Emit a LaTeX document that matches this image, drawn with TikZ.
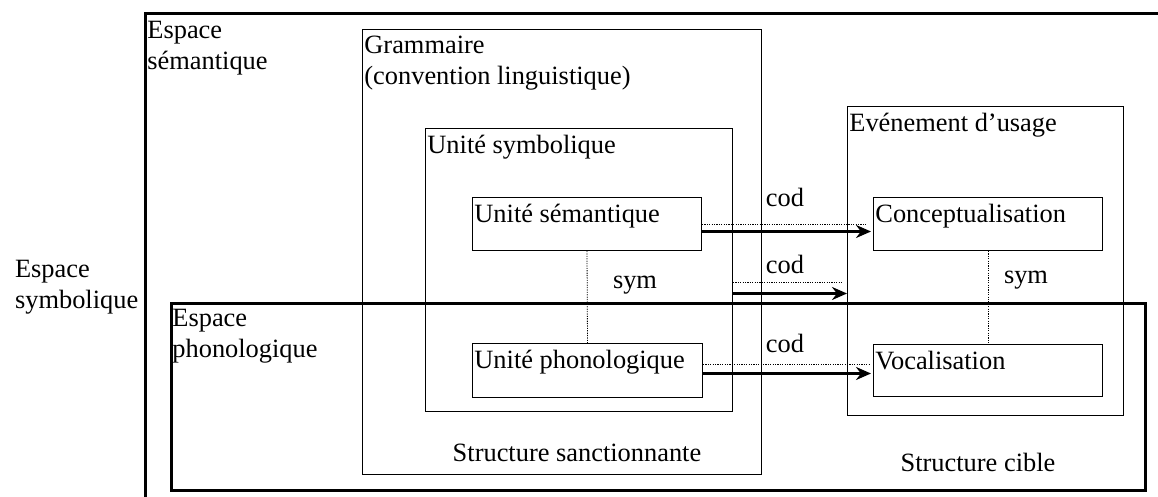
\documentclass[tikz,border=0pt]{standalone}
\usepackage{fontspec}
\setmainfont{Liberation Serif}
\usetikzlibrary{arrows.meta}
\tikzstyle{box}=[draw,rectangle,line width=0.5pt,inner sep=0pt,anchor=north west]
\tikzstyle{space}=[box,line width=1.5pt]
\tikzstyle{lbl}=[anchor=north west,align=left,inner xsep=1pt,inner ysep=3.5pt]
\tikzstyle{link}=[line width=0.4pt,dash pattern=on 0.6pt off 0.6pt]
\tikzstyle{cod}=[-{Stealth[length=7.5pt,width=6.5pt]},line width=1.4pt]

\begin{document}
\begin{tikzpicture}[x=0.5pt,y=-0.5pt,font=\fontsize{13.2}{15.5}\selectfont]
  \useasboundingbox (0,0) rectangle (1158,497);

  % semantic and phonological spaces
  \draw[line width=1.5pt] (1158,14) -- (145,14) -- (145,497);
  \node[lbl] (semlbl) at (145,14) {Espace\\sémantique};
  \node[space,minimum width=487pt,minimum height=93.5pt] (phon) at (170,302) {};
  \node[lbl] (phonlbl) at (phon.north west) {Espace\\phonologique};
  \node[align=left,anchor=west] (symblbl) at (8,287) {Espace\\symbolique};

  % sanctioning structure
  \node[box,minimum width=199.5pt,minimum height=222.5pt] (gram) at (362,29) {};
  \node[lbl] (gramlbl) at (gram.north west) {Grammaire\\(convention linguistique)};
  \node[box,minimum width=153.5pt,minimum height=141.5pt] (symb) at (425,128) {};
  \node[lbl] (symblbl2) at (symb.north west) {Unité symbolique};
  \node[box,minimum width=114.5pt,minimum height=26.5pt] (usem) at (472,197) {};
  \node[lbl] (usemlbl) at (usem.north west) {Unité sémantique};
  \node[box,minimum width=115pt,minimum height=27pt] (uphon) at (472,343) {};
  \node[lbl] (uphonlbl) at (uphon.north west) {Unité phonologique};
  \node (sanct) at (577,453) {Structure sanctionnante};

  % target structure
  \node[box,minimum width=138pt,minimum height=154.5pt] (even) at (847,106) {};
  \node[lbl] (evenlbl) at (even.north west) {Evénement d’usage};
  \node[box,minimum width=114.5pt,minimum height=26.5pt] (concept) at (873,197) {};
  \node[lbl] (conceptlbl) at (concept.north west) {Conceptualisation};
  \node[box,minimum width=114.5pt,minimum height=26pt] (vocal) at (873,344) {};
  \node[lbl] (vocallbl) at (vocal.north west) {Vocalisation};
  \node (cible) at (978,462) {Structure cible};

  % sym links
  \draw[link] (usem.south) -- (uphon.north);
  \draw[link] (concept.south) -- (vocal.north);
  \node (sym1) at (635,285) {sym};
  \node (sym2) at (1026,280) {sym};

  % cod links
  \draw[link,shorten >=3.5pt] (usem.east) -- (concept.west);
  \draw[cod,shorten >=1pt] ([yshift=-3.75pt]usem.east) -- ([yshift=-3.75pt]concept.west);
  \node (cod1) at (785,197) {cod};
  \coordinate (m1) at ([yshift=-6.25pt]symb.east);
  \coordinate (m2) at ([yshift=-11.75pt]symb.east);
  \draw[link,shorten >=2pt] (m1) -- (m1 -| even.west);
  \draw[cod] (m2) -- (m2 -| even.west);
  \node (cod2) at (785,264) {cod};
  \draw[link,shorten >=1.5pt] ([yshift=3pt]uphon.east) -- ([yshift=3pt]vocal.west);
  \draw[cod,shorten >=1pt] ([yshift=-1.5pt]uphon.east) -- ([yshift=-1.5pt]vocal.west);
  \node (cod3) at (785,343) {cod};
\end{tikzpicture}
\end{document}
